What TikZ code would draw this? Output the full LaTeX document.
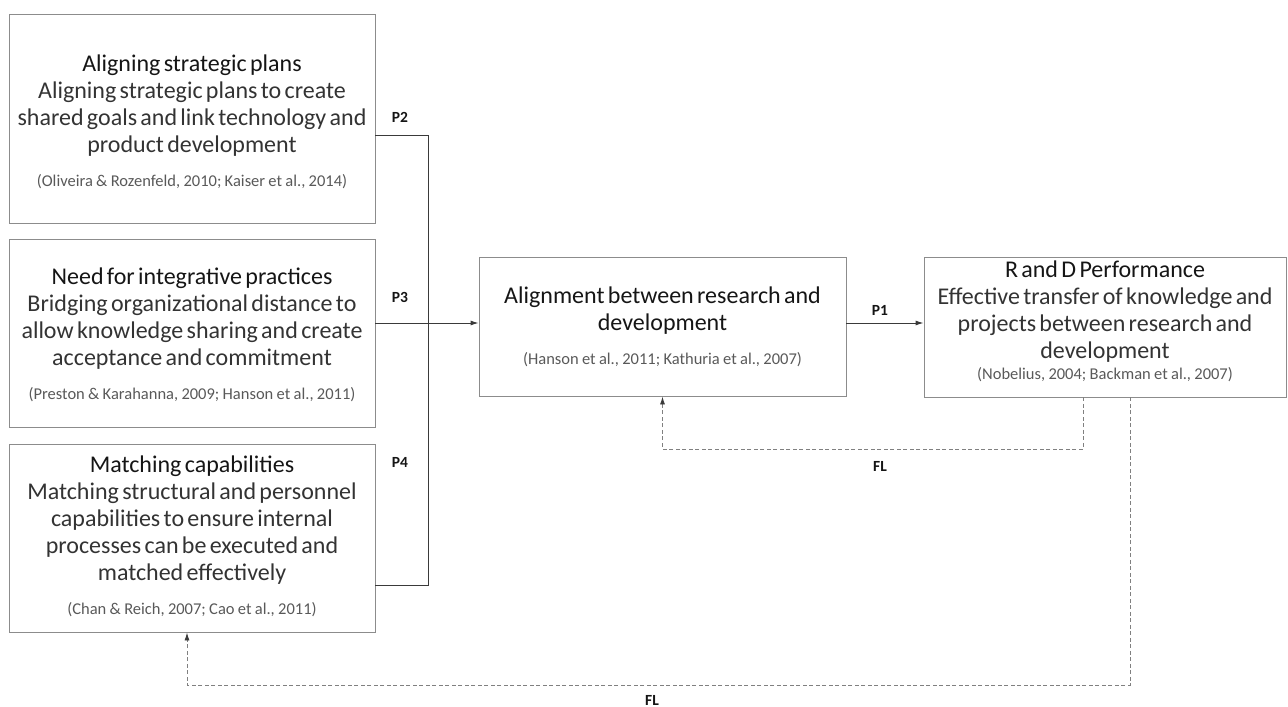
\documentclass[tikz,border=0pt]{standalone}
\usepackage{fontspec}
\setmainfont{Carlito}
\usetikzlibrary{arrows.meta,calc}
\definecolor{titc}{HTML}{151515}
\definecolor{bodc}{HTML}{333333}
\definecolor{citc}{HTML}{595959}
\definecolor{boxc}{HTML}{8C8C8C}
\definecolor{linec}{HTML}{3A3A3A}
\definecolor{dashc}{HTML}{808080}
\newcommand{\tit}[1]{{\color{titc}\fontsize{24bp}{27bp}\selectfont #1\par}}
\newcommand{\bod}[1]{{\color{bodc}\fontsize{24bp}{27bp}\selectfont #1\par}}
\newcommand{\cit}[2][34bp]{{\color{citc}\fontsize{16.5bp}{#1}\selectfont #2\par}}
\tikzset{
  box/.style={draw=boxc, line width=0.9bp, inner sep=0pt},
  conn/.style={draw=linec, line width=0.9bp},
  arr/.style={-{Latex[length=8bp,width=5bp]}},
  darr/.style={-{Latex[length=8bp,width=5bp,color=linec]}},
  fl/.style={draw=dashc, line width=0.9bp, dash pattern=on 4bp off 2.5bp},
  lab/.style={font=\fontsize{15.5bp}{17bp}\selectfont\bfseries, text=titc},
  txt/.style={align=center, text width=#1, inner sep=0pt}
}
\begin{document}
\begin{tikzpicture}[x=1bp,y=-1bp]
\useasboundingbox (0,0) rectangle (1288,707);
% boxes
\node[box, minimum width=366bp, minimum height=209bp] (b1) at (192,118.5) {};
\node[box, minimum width=366bp, minimum height=188bp] (b2) at (192,333) {};
\node[box, minimum width=366bp, minimum height=188bp] (b3) at (192,538) {};
\node[box, minimum width=367bp, minimum height=139bp] (al) at (662.5,326.5) {};
\node[box, minimum width=362bp, minimum height=140bp] (rd) at (1105,327) {};
% contents
\node[txt=366bp] (t1) at (192,122) {%
\tit{Aligning strategic plans}\bod{Aligning strategic plans to create\\shared goals and link technology and\\product development}\cit{(Oliveira \& Rozenfeld, 2010; Kaiser et al., 2014)}};
\node[txt=366bp] (t2) at (192,335) {%
\tit{Need for integrative practices}\bod{Bridging organizational distance to\\allow knowledge sharing and create\\acceptance and commitment}\cit{(Preston \& Karahanna, 2009; Hanson et al., 2011)}};
\node[txt=366bp] (t3) at (192,536) {%
\tit{Matching capabilities}\bod{Matching structural and personnel\\capabilities to ensure internal\\processes can be executed and\\matched effectively}\cit{(Chan \& Reich, 2007; Cao et al., 2011)}};
\node[txt=367bp] (t4) at (662.5,327) {%
\tit{Alignment between research and\\development}\cit{(Hanson et al., 2011; Kathuria et al., 2007)}};
\node[txt=362bp] (t5) at (1105,321) {%
\tit{R and D Performance}\bod{Effective transfer of knowledge and\\projects between research and\\development}\cit[21bp]{(Nobelius, 2004; Backman et al., 2007)}};
% junction coordinates
\coordinate (top) at (428,135);
\coordinate (bot) at (428,585);
\coordinate (j) at (428,323);
\coordinate (f1) at (1083,449);
\coordinate (f1b) at (662.5,449);
\coordinate (f2) at (1130,685);
\coordinate (f2b) at (187,685);
% connectors
\draw[conn] (b1.east |- top) -- (top) -- (bot) -- (b3.east |- bot);
\draw[conn,arr] (b2.east |- j) -- (al.west |- j);
\draw[conn,arr] (al.east |- j) -- (rd.west |- j);
\draw[fl,darr] (rd.south -| f1) -- (f1) -- (f1b) -- (al.south);
\draw[fl,darr] (rd.south -| f2) -- (f2) -- (f2b) -- (b3.south -| f2b);
% labels
\node[lab] (p2) at (400,117) {P2};
\node[lab] (p3) at (400,297) {P3};
\node[lab] (p4) at (400,462) {P4};
\node[lab] (p1) at (880,310) {P1};
\node[lab] (fl1) at (880,466) {FL};
\node[lab] (fl2) at (652,700) {FL};
\end{tikzpicture}
\end{document}
